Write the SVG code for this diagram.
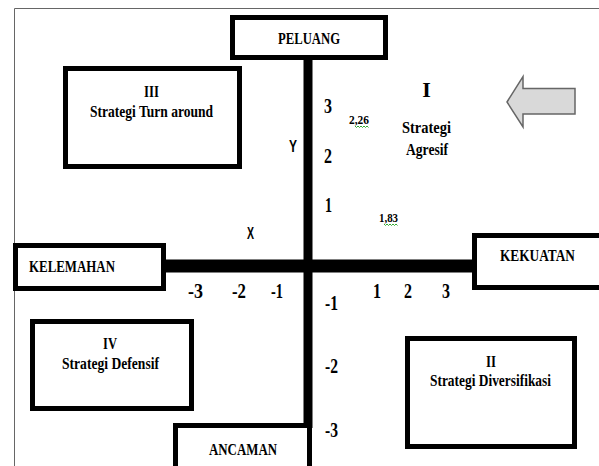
<svg xmlns="http://www.w3.org/2000/svg" width="599" height="466" viewBox="0 0 599 466">
<style>
.box{fill:#fff;stroke:#000;stroke-width:5}
.t{font-family:"Liberation Serif","Times New Roman",serif;font-weight:bold;fill:#000}
.lb{font-size:16.5px}
.n{font-size:20px}
.s{font-family:"Liberation Sans",Arial,sans-serif;font-weight:bold;font-size:16px;fill:#000}
.sq{fill:none;stroke:#3a3;stroke-width:1}
</style>
<rect width="599" height="466" fill="#fff"/>
<path d="M14.5,466 V8.5 H599" fill="none" stroke="#666" stroke-width="1"/>
<g id="connectors">
<rect x="303.5" y="58" width="9" height="370" fill="#000"/>
<rect x="164" y="259.5" width="310" height="13" fill="#000"/>
</g>
<g id="peluang">
<rect class="box" x="232.5" y="17.5" width="153" height="40"/>
<text class="t lb" x="278" y="44" textLength="62" lengthAdjust="spacingAndGlyphs">PELUANG</text>
</g>
<g id="kelemahan">
<rect class="box" x="15.5" y="245.5" width="148" height="43"/>
<text class="t lb" x="29" y="272" textLength="86" lengthAdjust="spacingAndGlyphs">KELEMAHAN</text>
</g>
<g id="kekuatan">
<rect class="box" x="474.5" y="235.5" width="140" height="52"/>
<text class="t lb" x="500" y="261" textLength="75" lengthAdjust="spacingAndGlyphs">KEKUATAN</text>
</g>
<g id="ancaman">
<rect class="box" x="175.5" y="425.5" width="134" height="60"/>
<text class="t lb" x="209" y="455" textLength="68" lengthAdjust="spacingAndGlyphs">ANCAMAN</text>
</g>
<g id="quadrant-3">
<rect class="box" x="65.5" y="68.5" width="174" height="98"/>
<text class="t lb" x="144" y="97" textLength="15" lengthAdjust="spacingAndGlyphs">III</text>
<text class="t lb" x="90" y="117" textLength="123" lengthAdjust="spacingAndGlyphs">Strategi Turn around</text>
</g>
<g id="quadrant-4">
<rect class="box" x="32.5" y="321.5" width="159" height="87"/>
<text class="t lb" x="103" y="349" textLength="14" lengthAdjust="spacingAndGlyphs">IV</text>
<text class="t lb" x="62" y="369" textLength="97" lengthAdjust="spacingAndGlyphs">Strategi Defensif</text>
</g>
<g id="quadrant-2">
<rect class="box" x="407.5" y="338.5" width="167" height="108"/>
<text class="t lb" x="486" y="367" textLength="10" lengthAdjust="spacingAndGlyphs">II</text>
<text class="t lb" x="430" y="386" textLength="121" lengthAdjust="spacingAndGlyphs">Strategi Diversifikasi</text>
</g>
<g id="quadrant-1">
<text class="t" x="426.5" y="97" font-size="22" font-weight="normal" text-anchor="middle">I</text>
<text class="t lb" x="402" y="133" textLength="49" lengthAdjust="spacingAndGlyphs">Strategi</text>
<text class="t lb" x="406" y="155" textLength="42" lengthAdjust="spacingAndGlyphs">Agresif</text>
</g>
<g id="arrow">
<path d="M507,102 L523,76.5 V88.5 H575 V114 H523 V127 Z" fill="#d9d9d9" stroke="#666" stroke-width="1.5"/>
</g>
<g id="axis-labels">
<text class="s" x="289" y="152" textLength="8" lengthAdjust="spacingAndGlyphs">Y</text>
<text class="s" x="247" y="239" textLength="7" lengthAdjust="spacingAndGlyphs">X</text>
<text class="t n" x="324" y="113" textLength="8" lengthAdjust="spacingAndGlyphs">3</text>
<text class="t n" x="324" y="163" textLength="8" lengthAdjust="spacingAndGlyphs">2</text>
<text class="t n" x="325" y="212" textLength="7" lengthAdjust="spacingAndGlyphs">1</text>
<text class="t n" x="325" y="310" textLength="13" lengthAdjust="spacingAndGlyphs">-1</text>
<text class="t n" x="325" y="373" textLength="13" lengthAdjust="spacingAndGlyphs">-2</text>
<text class="t n" x="325" y="437" textLength="13" lengthAdjust="spacingAndGlyphs">-3</text>
<text class="t n" x="188" y="298" textLength="15" lengthAdjust="spacingAndGlyphs">-3</text>
<text class="t n" x="232" y="298" textLength="14" lengthAdjust="spacingAndGlyphs">-2</text>
<text class="t n" x="271" y="298" textLength="12" lengthAdjust="spacingAndGlyphs">-1</text>
<text class="t n" x="373" y="298" textLength="8" lengthAdjust="spacingAndGlyphs">1</text>
<text class="t n" x="404" y="298" textLength="8" lengthAdjust="spacingAndGlyphs">2</text>
<text class="t n" x="442" y="298" textLength="8" lengthAdjust="spacingAndGlyphs">3</text>
</g>
<g id="values">
<text class="t" x="349" y="124" font-size="12" textLength="20" lengthAdjust="spacingAndGlyphs">2,26</text>
<path class="sq" d="M355,126 l1.5,1.5 l1.5,-1.5 l1.5,1.5 l1.5,-1.5 l1.5,1.5 l1.5,-1.5 l1.5,1.5 l1.5,-1.5 l1.5,1.5"/>
<text class="t" x="379" y="222" font-size="12" textLength="19" lengthAdjust="spacingAndGlyphs">1,83</text>
<path class="sq" d="M384,224 l1.5,1.5 l1.5,-1.5 l1.5,1.5 l1.5,-1.5 l1.5,1.5 l1.5,-1.5 l1.5,1.5 l1.5,-1.5 l1.5,1.5"/>
</g>
</svg>
